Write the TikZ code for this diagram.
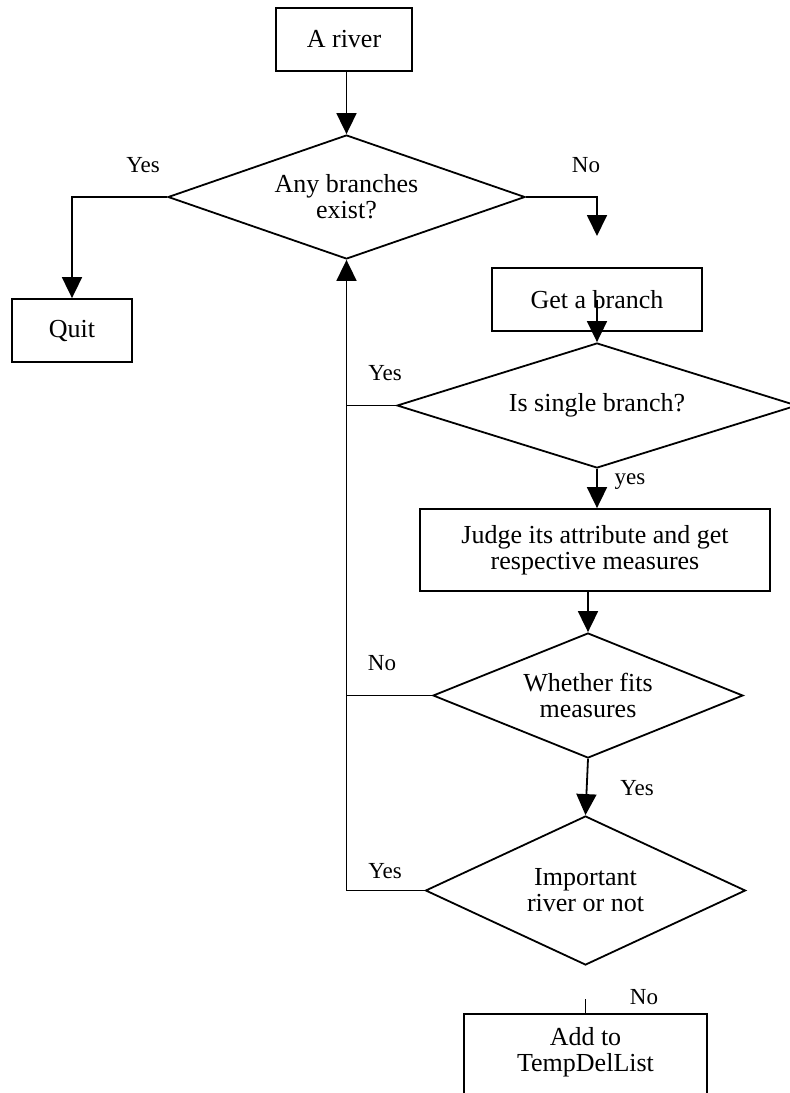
\documentclass[tikz,border=0pt]{standalone}
\usepackage{fontspec}
\setmainfont{Liberation Serif}
\usetikzlibrary{shapes.geometric,arrows.meta}
\begin{document}
\begin{tikzpicture}[x=1pt,y=-1pt,
  every node/.style={font=\fontsize{26}{26}\selectfont},
  box/.style={draw, line width=1.8pt, rectangle, inner sep=0pt, align=center},
  dia/.style={draw, line width=1.8pt, diamond, inner sep=0pt, align=center},
  lbl/.style={font=\fontsize{23}{23}\selectfont, inner sep=0pt},
  arr/.style={line width=1.8pt, -{Triangle[length=21pt,width=20pt]}},
  con/.style={line width=1.8pt}]
\useasboundingbox (0,0) rectangle (790,1093);
% nodes
\node[box, minimum width=136pt, minimum height=63pt] (river) at (344,39.5) {A river};
\node[dia, minimum width=357pt, minimum height=124pt, aspect=2.88] (d1) at (346.5,197) {Any branches\\exist?};
\node[box, minimum width=120pt, minimum height=63pt] (quit) at (72,330.5) {Quit};
\node[box, minimum width=210pt, minimum height=63pt] (branch) at (597,299.5) {Get a branch};
\node[dia, minimum width=400pt, minimum height=125pt, aspect=3.2] (d2) at (597,405.5) {Is single branch?};
\node[box, minimum width=350pt, minimum height=82pt] (judge) at (595,550) {Judge its attribute and get\\respective measures};
\node[dia, minimum width=310pt, minimum height=125pt, aspect=2.48] (d3) at (588,695.5) {Whether fits\\measures};
\node[dia, minimum width=320pt, minimum height=149pt, aspect=2.15] (d4) at (585.5,890.5) {Important\\river or not};
\node[box, anchor=north, minimum width=243pt, inner ysep=14pt, text depth=70pt] (add) at (585.5,1013) {Add to\\TempDelList};
% free ends
\coordinate (noend) at (597,236);
\coordinate (stub) at (585.5,999);
% connectors
\draw[arr] (river.south -| d1.north) -- (d1.north);
\draw[arr] (d1.west) -| (quit.north);
\draw[arr] (d1.east) -| (noend);
\draw[arr] (branch.center) -- (d2.north);
\draw[con] (d2.west) -- (d2.west -| d1.south);
\draw[arr] (d2.south) -- (d2.south |- judge.north);
\draw[arr] (judge.south -| d3.north) -- (d3.north);
\draw[con] (d3.west) -- (d3.west -| d1.south);
\draw[arr] (d3.south) -- (d4.north);
\draw[arr] (d4.west) -| (d1.south);
\draw[con] (stub) -- (add.north);
% labels
\node[lbl] (l1) at (143,165) {Yes};
\node[lbl] (l2) at (586,165) {No};
\node[lbl] (l3) at (385,373) {Yes};
\node[lbl] (l4) at (630,482) {yes};
\node[lbl] (l5) at (382,663) {No};
\node[lbl] (l6) at (637,788) {Yes};
\node[lbl] (l7) at (385,871) {Yes};
\node[lbl] (l8) at (644,997) {No};
\end{tikzpicture}
\end{document}
